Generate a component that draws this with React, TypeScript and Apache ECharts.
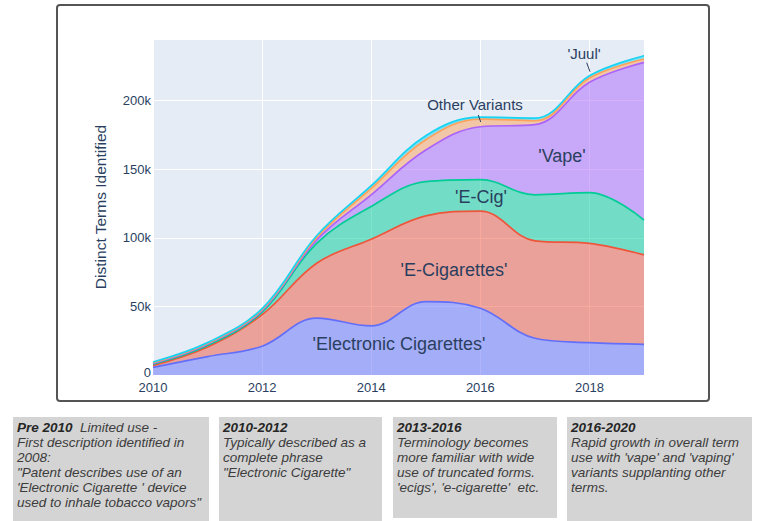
import React, { useEffect, useRef } from "react";
import * as echarts from "echarts";

const years = ["2010", "2011", "2012", "2013", "2014", "2015", "2016", "2017", "2018", "2019"];
const electronicCigarettes = [5500, 13400, 21000, 41400, 35800, 53500, 48700, 26800, 23600, 22400];
const eCigarettes = [1500, 7100, 23000, 40100, 63200, 62500, 70800, 71000, 72400, 65200];
const eCig = [800, 1000, 1900, 14500, 23900, 25000, 23000, 33600, 37000, 25400];
const vape = [600, 1000, 1000, 2500, 8500, 23000, 38500, 51100, 80400, 115000];
const otherVariants = [600, 500, 800, 1700, 4600, 7500, 5600, 2900, 3200, 2400];
const juul = [500, 600, 700, 1300, 2000, 3000, 1400, 1900, 1600, 2400];

const seriesNames = ["'Electronic Cigarettes'", "'E-Cigarettes'", "'E-Cig'", "'Vape'", "Other Variants", "'Juul'"];
const seriesColors = ["#636efa", "#EF553B", "#00cc96", "#ab63fa", "#FFA15A", "#19d3f3"];
const seriesValues = [electronicCigarettes, eCigarettes, eCig, vape, otherVariants, juul];

const notes = [
  { title: "Pre 2010", first: "  Limited use -", lines: ["First description identified in", "2008:", "\"Patent describes use of an", "'Electronic Cigarette ' device", "used to inhale tobacco vapors\""] },
  { title: "2010-2012", first: "", lines: ["Typically described as a", "complete phrase", "\"Electronic Cigarette\""] },
  { title: "2013-2016", first: "", lines: ["Terminology becomes", "more familiar with wide", "use of truncated forms.", "'ecigs', 'e-cigarette'  etc."] },
  { title: "2016-2020", first: "", lines: ["Rapid growth in overall term", "use with 'vape' and 'vaping'", "variants supplanting other", "terms."] },
];
const noteBoxes = [
  { x: 13, w: 196, h: 104 },
  { x: 219, w: 163, h: 104 },
  { x: 393, w: 164, h: 101 },
  { x: 567, w: 185, h: 104 },
];

const FONT = "'Liberation Sans', Arial, sans-serif";
const TXT = "#2a3f5f";

export default function App() {
  const ref = useRef<HTMLDivElement>(null);
  useEffect(() => {
    if (!ref.current) return;
    const chart = echarts.init(ref.current, undefined, { renderer: "svg" });

    const series = seriesValues.map((vals, i) => ({
      name: seriesNames[i],
      type: "line",
      stack: "total",
      smooth: 0.38,
      showSymbol: false,
      symbol: "none",
      data: vals,
      lineStyle: { color: seriesColors[i], width: 1.7 },
      itemStyle: { color: seriesColors[i] },
      areaStyle: { color: seriesColors[i], opacity: 0.5 },
    }));

    const graphics: any[] = [
      {
        type: "rect",
        shape: { x: 57, y: 5, width: 652, height: 396, r: 3 },
        style: { fill: "none", stroke: "#555", lineWidth: 2 },
        z: -1,
        silent: true,
      },
    ];
    noteBoxes.forEach((b, i) => {
      graphics.push({
        type: "rect",
        shape: { x: b.x, y: 417, width: b.w, height: b.h },
        style: { fill: "#d4d4d4" },
        silent: true,
      });
      const n = notes[i];
      const text = "{b|" + n.title + "}{t|" + n.first + "}\n" + n.lines.map((l) => "{t|" + l + "}").join("\n");
      graphics.push({
        type: "text",
        x: b.x + 4,
        y: 420,
        style: {
          text,
          fontFamily: FONT,
          fontSize: 13.5,
          lineHeight: 15,
          fill: "#3c3c3c",
          rich: {
            b: { fontWeight: "bold", fontStyle: "italic", fontSize: 13.5, lineHeight: 15, fill: "#262626", fontFamily: FONT },
            t: { fontStyle: "italic", fontSize: 13.5, lineHeight: 15, fill: "#3c3c3c", fontFamily: FONT },
          },
        },
        silent: true,
      });
    });

    const labels = [
      { text: "'Electronic Cigarettes'", x: 399, y: 344, size: 18 },
      { text: "'E-Cigarettes'", x: 454, y: 270, size: 18 },
      { text: "'E-Cig'", x: 481, y: 197, size: 18 },
      { text: "'Vape'", x: 562, y: 156, size: 18 },
      { text: "Other Variants", x: 475, y: 104, size: 15 },
      { text: "'Juul'", x: 584, y: 53, size: 15 },
    ];
    labels.forEach((l) => {
      graphics.push({
        type: "text",
        x: l.x,
        y: l.y,
        z: 100,
        style: { text: l.text, fontSize: l.size, fontFamily: FONT, fill: TXT, align: "center", verticalAlign: "middle" },
        silent: true,
      });
    });
    graphics.push({
      type: "line",
      z: 100,
      shape: { x1: 478.3, y1: 115, x2: 480.7, y2: 122 },
      style: { stroke: TXT, lineWidth: 1 },
      silent: true,
    });
    graphics.push({
      type: "line",
      z: 100,
      shape: { x1: 586.7, y1: 62.7, x2: 590, y2: 71.7 },
      style: { stroke: TXT, lineWidth: 1 },
      silent: true,
    });

    chart.setOption({
      animation: false,
      backgroundColor: "#ffffff",
      grid: {
        left: 153,
        right: 119,
        top: 39,
        bottom: 146,
        show: true,
        backgroundColor: "#E5ECF6",
        borderWidth: 0,
      },
      xAxis: {
        type: "category",
        data: years,
        boundaryGap: false,
        axisLine: { show: false },
        axisTick: { show: false },
        splitLine: { show: true, interval: 1, lineStyle: { color: "#ffffff", width: 1 } },
        axisLabel: {
          color: TXT,
          fontSize: 13,
          fontFamily: FONT,
          margin: 6,
          lineHeight: 12,
          interval: 1,
        },
      },
      yAxis: {
        type: "value",
        min: 0,
        max: 245000,
        interval: 50000,
        name: "Distinct Terms Identified",
        nameLocation: "middle",
        nameGap: 45,
        nameTextStyle: { color: TXT, fontSize: 15.5, fontFamily: FONT },
        axisLine: { show: false },
        axisTick: { show: false },
        splitLine: { show: true, lineStyle: { color: "#ffffff", width: 1 } },
        axisLabel: {
          color: TXT,
          fontSize: 13,
          fontFamily: FONT,
          margin: 2,
          lineHeight: 12,
          showMaxLabel: false,
          formatter: (v: number) => (v === 0 ? "{z|0}" : v / 1000 + "k"),
          rich: { z: { fontSize: 13, fontFamily: FONT, color: TXT, lineHeight: 12, padding: [0, 0, 6, 0] } },
        },
      },
      series,
      graphic: graphics,
    });

    return () => chart.dispose();
  }, []);

  return (
    <div
      ref={ref}
      style={{ position: "fixed", left: 0, top: 0, width: 763, height: 521 }}
    />
  );
}
